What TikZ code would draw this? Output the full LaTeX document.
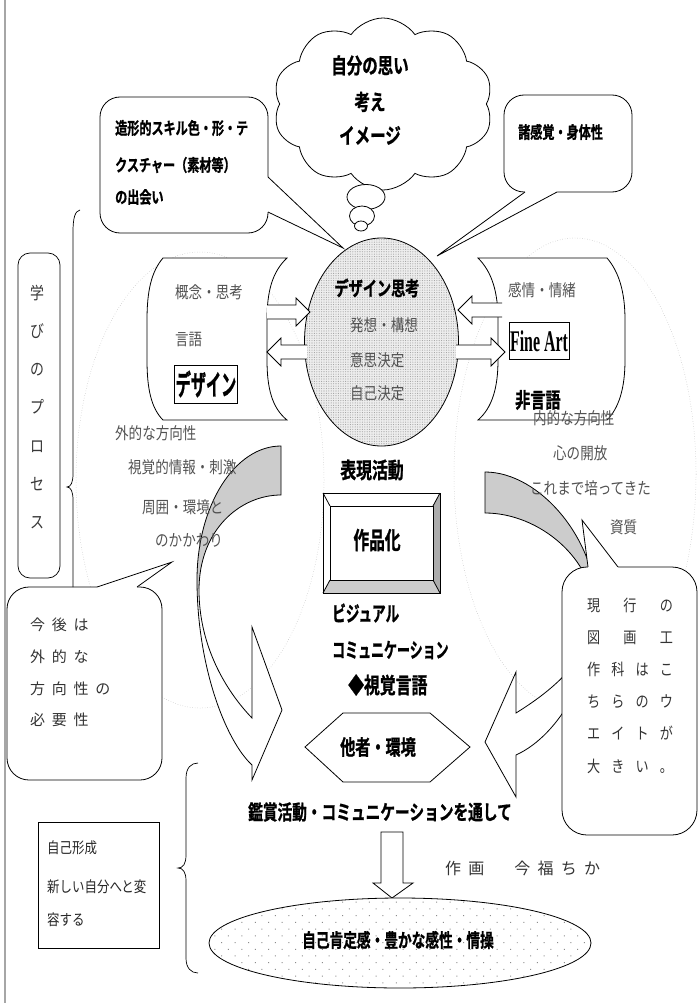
\documentclass[tikz,border=0pt]{standalone}
\usepackage{fontspec}
\usepackage{graphicx}
\usetikzlibrary{shapes.symbols,shapes.geometric,patterns.meta}
\newfontfamily\jpr[FakeStretch=0.82]{Noto Sans CJK JP}
\newfontfamily\jpb[UprightFont={* Bold},FakeStretch=0.72,FakeBold=1]{Noto Sans CJK JP}
\newfontfamily\jpsp[LetterSpace=45]{Noto Sans CJK JP}
\newfontfamily\serifb[UprightFont={* Bold}]{Liberation Serif}
\newcommand\fsz[1]{\fontsize{#1}{#1}\selectfont}
\begin{document}
\begin{tikzpicture}[x=1pt,y=-1pt,
  ln/.style={line width=0.8pt},
  gtx/.style={inner sep=0, anchor=west, text=black!68, font=\jpr\fsz{16.5}},
  btx/.style={inner sep=0},
  dotell/.style={draw=gray!55, dotted, line width=0.5pt}]
\useasboundingbox (0,0) rectangle (698,1003);

% background dotted ellipses
\draw[dotell] (200,480) ellipse [x radius=124pt, y radius=228pt];
\draw[dotell] (575,474) ellipse [x radius=121pt, y radius=236pt];

% left border line
\draw[gray!70, line width=1.5pt] (5,0) -- (5,1003);

% cloud and thought bubbles
\node[cloud, draw, ln, fill=white, cloud puffs=10, cloud puff arc=110, minimum width=220pt, minimum height=172pt, inner sep=0] (cloud) at (383,104) {};
\node[btx, font=\jpb\fsz{21.5}, align=center] (cloudt) at (370,100) {\makebox[0pt]{自分の思い}\\[15pt]考え\\[12pt]イメージ};
\node[ellipse, draw, ln, fill=white, minimum width=38pt, minimum height=25pt, inner sep=0] (b1) at (366,197) {};
\node[ellipse, draw, ln, fill=white, minimum width=25pt, minimum height=20pt, inner sep=0] (b2) at (362,216) {};
\node[ellipse, draw, ln, fill=white, minimum width=13pt, minimum height=10pt, inner sep=0] (b3) at (361,226) {};

% top-left callout
\draw[ln, fill=white, rounded corners=20pt] (100,97) rectangle (268,233);
\fill[white] (264,177) -- (268,177) -- (343,248) -- (268,212) -- (264,212) -- cycle;
\draw[ln] (268,177) -- (343,248) -- (268,212);
\node[btx, anchor=west, font=\jpb\fsz{16.8}] (cl1a) at (115,128) {造形的スキル色・形・テ};
\node[btx, anchor=west, font=\jpb\fsz{16.8}] (cl1b) at (115,165) {クスチャー（素材等）};
\node[btx, anchor=west, font=\jpb\fsz{16.8}] (cl1c) at (115,197) {の出会い};

% top-right callout
\draw[ln, fill=white, rounded corners=20pt] (504,95) rectangle (632,192);
\fill[white] (525,188) -- (525,192) -- (437,256) -- (557,192) -- (557,188) -- cycle;
\draw[ln] (525,192) -- (437,256) -- (557,192);
\node[btx, anchor=west, font=\jpb\fsz{16.8}] (cl2) at (518,132) {諸感覚・身体性};

% left scroll
\draw[ln, fill=white] (163,258) -- (287,258) .. controls (272,272) and (267,292) .. (267,320) -- (267,360) .. controls (267,388) and (272,408) .. (287,420) -- (163,420) .. controls (151,408) and (147,388) .. (147,360) -- (147,320) .. controls (147,292) and (151,272) .. (163,258) -- cycle;
% right scroll
\draw[ln, fill=white] (478,258) -- (607,258) .. controls (619,272) and (625,292) .. (625,320) -- (625,360) .. controls (625,388) and (619,408) .. (607,420) -- (478,420) .. controls (492,408) and (498,388) .. (498,360) -- (498,320) .. controls (498,292) and (492,272) .. (478,258) -- cycle;

% center ellipse
\node[ellipse, draw, ln, minimum width=154pt, minimum height=208pt, inner sep=0,
  preaction={fill=gray!14}, pattern={Dots[distance=2.4pt,radius=0.55pt]}, pattern color=gray!75] (think) at (381.5,342) {};
\node[btx, font=\jpb\fsz{19.7}] (thinkt) at (377,288) {デザイン思考};
\node[gtx] (th1) at (350,325) {発想・構想};
\node[gtx] (th2) at (350,360) {意思決定};
\node[gtx] (th3) at (350,393) {自己決定};

% small outline arrows
\draw[ln, fill=white] (267,305) -- (296,305) -- (296,298) -- (310,312) -- (296,326) -- (296,319) -- (267,319);
\draw[ln, fill=white] (307,345) -- (281,345) -- (281,338) -- (267,352) -- (281,366) -- (281,359) -- (307,359);
\draw[ln, fill=white] (502,303) -- (472,303) -- (472,296) -- (458,310) -- (472,324) -- (472,317) -- (502,317);
\draw[ln, fill=white] (456,345) -- (491,345) -- (491,338) -- (505,352) -- (491,366) -- (491,359) -- (456,359);

% scroll texts
\node[gtx] (s1) at (175,292) {概念・思考};
\node[gtx] (s2) at (175,340) {言語};
\node[draw, line width=1pt, minimum width=63pt, minimum height=38pt, inner sep=0, font=\jpb\fsz{21}] (dz) at (206,384) {\scalebox{1}[1.35]{デザイン}};
\node[gtx] (s3) at (508,290) {感情・情緒};
\node[draw, line width=1pt, minimum width=60pt, minimum height=37pt, inner sep=0, font=\serifb\fsz{30}] (fa) at (539,341) {\scalebox{0.53}[1]{Fine Art}};

% curved arrows
\def\leftarr{(281,446) .. controls (235,446) and (197,505) .. (197,580) .. controls (197,665) and (225,740) .. (252,765) -- (252,780) -- (282,710) -- (252,627) -- (252,718) .. controls (225,690) and (199,645) .. (199,590) .. controls (199,530) and (240,495) .. (281,495) -- cycle}
\def\rightarr{(485,472) .. controls (540,472) and (596,540) .. (596,605) .. controls (596,670) and (560,735) .. (516,755) -- (516,797) -- (485,742) -- (516,672) -- (516,713) .. controls (545,695) and (594,660) .. (594,612) .. controls (594,560) and (540,513) .. (485,513) -- cycle}
\fill[white] \leftarr;
\begin{scope}
\clip (0,0) rectangle (698,588);
\fill[gray!40] \leftarr;
\end{scope}
\draw[ln] \leftarr;
\fill[white] \rightarr;
\begin{scope}
\clip (0,0) rectangle (698,608);
\fill[gray!40] \rightarr;
\end{scope}
\draw[ln] \rightarr;

% side texts
\node[gtx] (l1) at (115,433) {外的な方向性};
\node[gtx] (l2) at (128,467) {視覚的情報・刺激};
\node[gtx] (l3) at (142,507) {周囲・環境と};
\node[gtx] (l4) at (155,540) {のかかわり};
\node[btx, anchor=west, font=\jpb\fsz{21}] (ng) at (515,400) {非言語};
\node[gtx] (r1) at (533,418) {内的な方向性};
\node[gtx] (r2) at (553,453) {心の開放};
\node[gtx] (r3) at (530,488) {これまで培ってきた};
\node[gtx] (r4) at (610,527) {資質};

% center column
\node[btx, font=\jpb\fsz{22}] (hy) at (372,470) {表現活動};
\fill[gray!40] (323,593) -- (440,593) -- (433,580) -- (330,580) -- cycle;
\fill[gray!65] (440,493) -- (440,593) -- (433,580) -- (433,506) -- cycle;
\draw[ln] (323,493) rectangle (440,593);
\draw[ln] (330,506) rectangle (433,580);
\draw[ln] (323,493) -- (330,506) (440,493) -- (433,506) (323,593) -- (330,580) (440,593) -- (433,580);
\node[btx, font=\jpb\fsz{21.8}] (sk) at (377,540) {\scalebox{1}[1.1]{作品化}};
\node[btx, anchor=west, font=\jpb\fsz{19}] (v1) at (332,613) {\scalebox{1}[1.1]{ビジュアル}};
\node[btx, anchor=west, font=\jpb\fsz{18}] (v2) at (332,650) {\scalebox{1}[1.15]{コミュニケーション}};
\node[btx, anchor=west, font=\jpb\fsz{22}] (v3) at (348,685) {◆視覚言語};

% hexagon
\draw[ln, fill=white] (305,747) -- (343,713) -- (430,713) -- (470,747) -- (430,782) -- (343,782) -- cycle;
\node[btx, font=\jpb\fsz{21}] (hx) at (378,747) {他者・環境};

% bottom-left callout
\draw[ln, fill=white, rounded corners=22pt] (7,587) rectangle (162,780);
\fill[white] (97,591) -- (97,587) -- (172,562) -- (137,587) -- (137,591) -- cycle;
\draw[ln] (97,587) -- (172,562) -- (137,587);
\node[btx, anchor=west, align=left, font=\jpsp\fontsize{15}{31.7}\selectfont, text=black!80] (c1t) at (30,672.5) {今後は\\外的な\\方向性の\\必要性};

% right callout
\draw[ln, fill=white, rounded corners=25pt] (562,567) rectangle (697,835);
\fill[white] (588,571) -- (588,567) -- (582,520) -- (618,567) -- (618,571) -- cycle;
\draw[ln] (588,567) -- (582,520) -- (618,567);
\node[btx, align=left, font=\jpr\fontsize{16}{32.2}\selectfont, text=black!80] (c2t) at (630,685.5) {\makebox[86pt]{現\hfill 行\hfill の}\\\makebox[86pt]{図\hfill 画\hfill 工}\\\makebox[86pt]{作\hfill 科\hfill は\hfill こ}\\\makebox[86pt]{ち\hfill ら\hfill の\hfill ウ}\\\makebox[86pt]{エ\hfill イ\hfill ト\hfill が}\\\makebox[86pt]{大\hfill き\hfill い\hfill 。}};

% left brace (top)
\draw[line width=0.7pt] (80,210) .. controls (75,211) and (73,218) .. (73,232) -- (73,474) .. controls (73,482) and (71,487) .. (67,487) .. controls (71,487) and (73,492) .. (73,500) -- (73,587);
% learning process box
\draw[line width=0.7pt, fill=white, rounded corners=12pt] (18,253) rectangle (60,578);
\node[btx, align=center, font=\jpr\fontsize{17}{38.3}\selectfont, text=black!78] (lp) at (37,407) {学\\び\\の\\プ\\ロ\\セ\\ス};

% bottom section
\node[btx, font=\jpb\fsz{20.4}] (kan) at (380,812) {鑑賞活動・コミュニケーションを通して};
\draw[ln, fill=white] (381,832) -- (403,832) -- (403,883) -- (413,883) -- (392,898) -- (373,883) -- (381,883) -- cycle;
\node[btx, anchor=west, font=\jpsp\fsz{16}, text=black!80] (author) at (445,868) {作画\hspace{30pt}今福ちか};
\node[ellipse, draw, ln, minimum width=382pt, minimum height=90pt, inner sep=0, preaction={fill=white},
  pattern={Dots[distance=9.5pt,radius=0.7pt,angle=45]}, pattern color=gray!90] (self) at (400,943) {};
\node[btx, font=\jpb\fsz{19}] (selft) at (398,940) {自己肯定感・豊かな感性・情操};
\draw[line width=0.6pt] (38,822) rectangle (159,948);
\node[gtx, text=black!85, font=\jpr\fsz{15.2}] (j1) at (47,848) {自己形成};
\node[gtx, text=black!85, font=\jpr\fsz{15.2}] (j2) at (47,887) {新しい自分へと変};
\node[gtx, text=black!85, font=\jpr\fsz{15.2}] (j3) at (47,920) {容する};
\draw[line width=0.7pt] (198,763) .. controls (191,763) and (186,768) .. (186,778) -- (186,855) .. controls (186,864) and (183,868) .. (178,868) .. controls (183,868) and (186,872) .. (186,881) -- (186,958) .. controls (186,968) and (191,973) .. (198,973);
\end{tikzpicture}
\end{document}
